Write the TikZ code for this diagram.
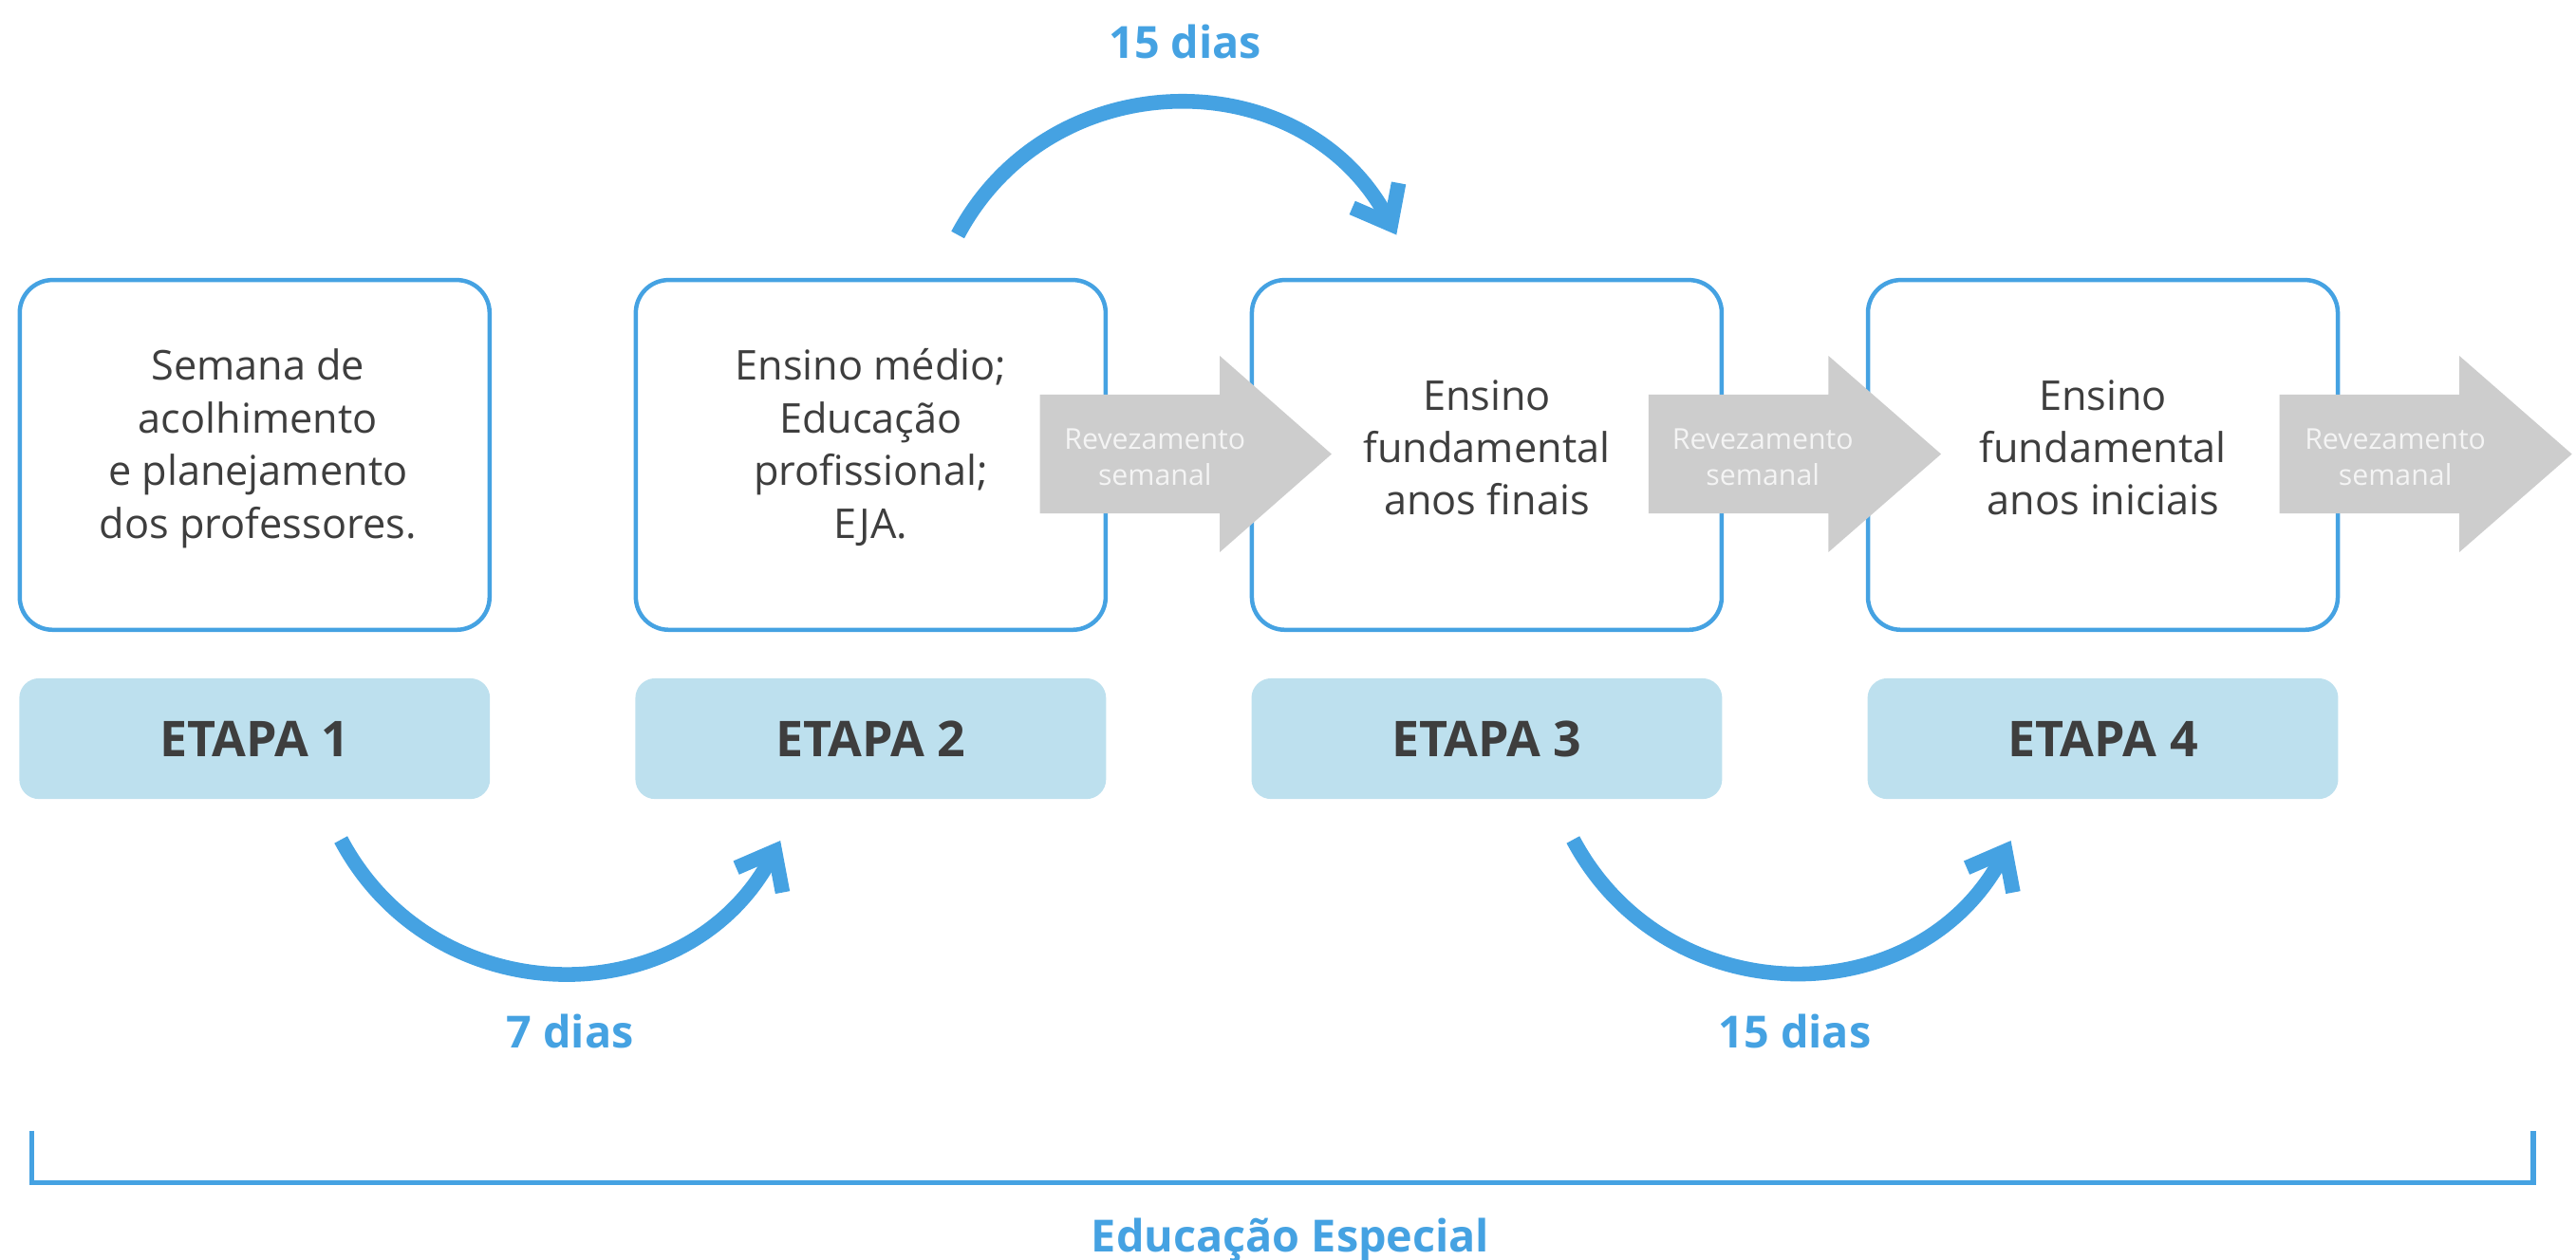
\documentclass[tikz,border=0pt]{standalone}
\usepackage{fontspec}
\setmainfont{Open Sans}
\usetikzlibrary{arrows.meta}
\definecolor{dayblue}{RGB}{69,162,226}
\definecolor{etapafill}{RGB}{189,224,238}
\definecolor{textgray}{RGB}{62,62,62}
\definecolor{swapgray}{RGB}{205,205,205}
\definecolor{swaptext}{RGB}{244,244,244}
\begin{document}
\begin{tikzpicture}[scale=1.000000,x=1pt,y=1pt,
  stagebox/.style={draw=dayblue,line width=2.600000pt,fill=white,rounded corners=20.000000pt,minimum width=286.000000pt,minimum height=213.000000pt,inner sep=0pt},
  stagetext/.style={align=center,text=textgray,font=\fontsize{25}{32}\selectfont,anchor=base},
  etapabox/.style={fill=etapafill,rounded corners=12.000000pt,minimum width=286.500000pt,minimum height=73.500000pt,text=textgray,font=\bfseries\fontsize{30}{36}\selectfont},
  swaparrow/.style={fill=swapgray},
  swaplabel/.style={align=center,text=swaptext,font=\fontsize{17.5}{22}\selectfont,anchor=base},
  dayarrow/.style={draw=dayblue,line width=9.000000pt,-{Straight Barb[length=20pt,width=32pt]}},
  daylabel/.style={text=dayblue,font=\bfseries\fontsize{27}{32}\selectfont,anchor=base}]
\useasboundingbox (0.000000,0.000000) rectangle (1568.000000,766.700000);
% Drawing stage boxes
% Box 1: semana de acolhimento
\node[stagebox] (b1) at (155.000000,489.700000) {};
% Box 2: ensino medio
\node[stagebox] (b2) at (530.000000,489.700000) {};
% Box 3: fundamental finais
\node[stagebox] (b3) at (905.000000,489.700000) {};
% Box 4: fundamental iniciais
\node[stagebox] (b4) at (1280.000000,489.700000) {};
% Done with stage boxes; drawing etapa labels
\node[etapabox] (e1) at (155.000000,316.900000) {ETAPA 1};
\node[etapabox] (e2) at (530.000000,316.900000) {ETAPA 2};
\node[etapabox] (e3) at (905.000000,316.900000) {ETAPA 3};
\node[etapabox] (e4) at (1280.000000,316.900000) {ETAPA 4};
% Done with etapa labels; drawing weekly swap arrows
% Swap 1: b2 -> b3
\fill[swaparrow] (633.000000,454.000000) -- (742.500000,454.000000) -- (742.500000,430.500000) -- (810.500000,490.200000) -- (742.500000,550.000000) -- (742.500000,526.500000) -- (633.000000,526.500000) -- cycle;
\node[swaplabel] (r1) at (703.000000,471.400000) {Revezamento\\semanal};
% Swap 2: b3 -> b4
\fill[swaparrow] (1003.500000,454.000000) -- (1113.000000,454.000000) -- (1113.000000,430.500000) -- (1181.500000,490.200000) -- (1113.000000,550.000000) -- (1113.000000,526.500000) -- (1003.500000,526.500000) -- cycle;
\node[swaplabel] (r2) at (1073.000000,471.400000) {Revezamento\\semanal};
% Swap 3: b4 -> out
\fill[swaparrow] (1387.500000,454.000000) -- (1497.000000,454.000000) -- (1497.000000,430.500000) -- (1565.500000,490.200000) -- (1497.000000,550.000000) -- (1497.000000,526.500000) -- (1387.500000,526.500000) -- cycle;
\node[swaplabel] (r3) at (1458.000000,471.400000) {Revezamento\\semanal};
% Done with swap arrows; drawing stage texts
\node[stagetext] (t1) at (157.000000,439.100000) {Semana de\\acolhimento\\e planejamento\\dos professores.};
\node[stagetext] (t2) at (530.000000,439.100000) {Ensino médio;\\Educação\\profissional;\\EJA.};
\node[stagetext] (t3) at (905.000000,453.000000) {Ensino\\fundamental\\anos finais};
\node[stagetext] (t4) at (1280.000000,453.000000) {Ensino\\fundamental\\anos iniciais};
% Done with stage texts; drawing day arcs
% Arc 1: etapa 1 -> etapa 2, 7 dias
\coordinate (d1s) at (207.500000,255.400000);
\coordinate (d1e) at (475.000000,254.800000);
\draw[dayarrow] (d1s) to[out=-62,in=-118,looseness=1.160000] (d1e);
\node[daylabel] (l1) at (347.000000,128.800000) {7 dias};
% Arc 2: box 2 -> box 3, 15 dias
\coordinate (d2s) at (583.000000,623.700000);
\coordinate (d2e) at (850.000000,623.700000);
\draw[dayarrow] (d2s) to[out=62,in=118,looseness=1.160000] (d2e);
\node[daylabel] (l2) at (721.500000,731.100000) {15 dias};
% Arc 3: etapa 3 -> etapa 4, 15 dias
\coordinate (d3s) at (957.500000,255.400000);
\coordinate (d3e) at (1224.000000,254.800000);
\draw[dayarrow] (d3s) to[out=-62,in=-118,looseness=1.160000] (d3e);
\node[daylabel] (l3) at (1092.500000,128.800000) {15 dias};
% Done with day arcs; drawing bracket
\coordinate (k1) at (19.500000,78.200000);
\coordinate (k2) at (1542.000000,78.200000);
\draw[dayblue,line width=3.000000pt] (k1) -- (19.500000,46.400000) -- (1542.000000,46.400000) -- (k2);
\node[daylabel] (l4) at (785.500000,4.100000) {Educação Especial};
% Done with bracket
\end{tikzpicture}
\end{document}
